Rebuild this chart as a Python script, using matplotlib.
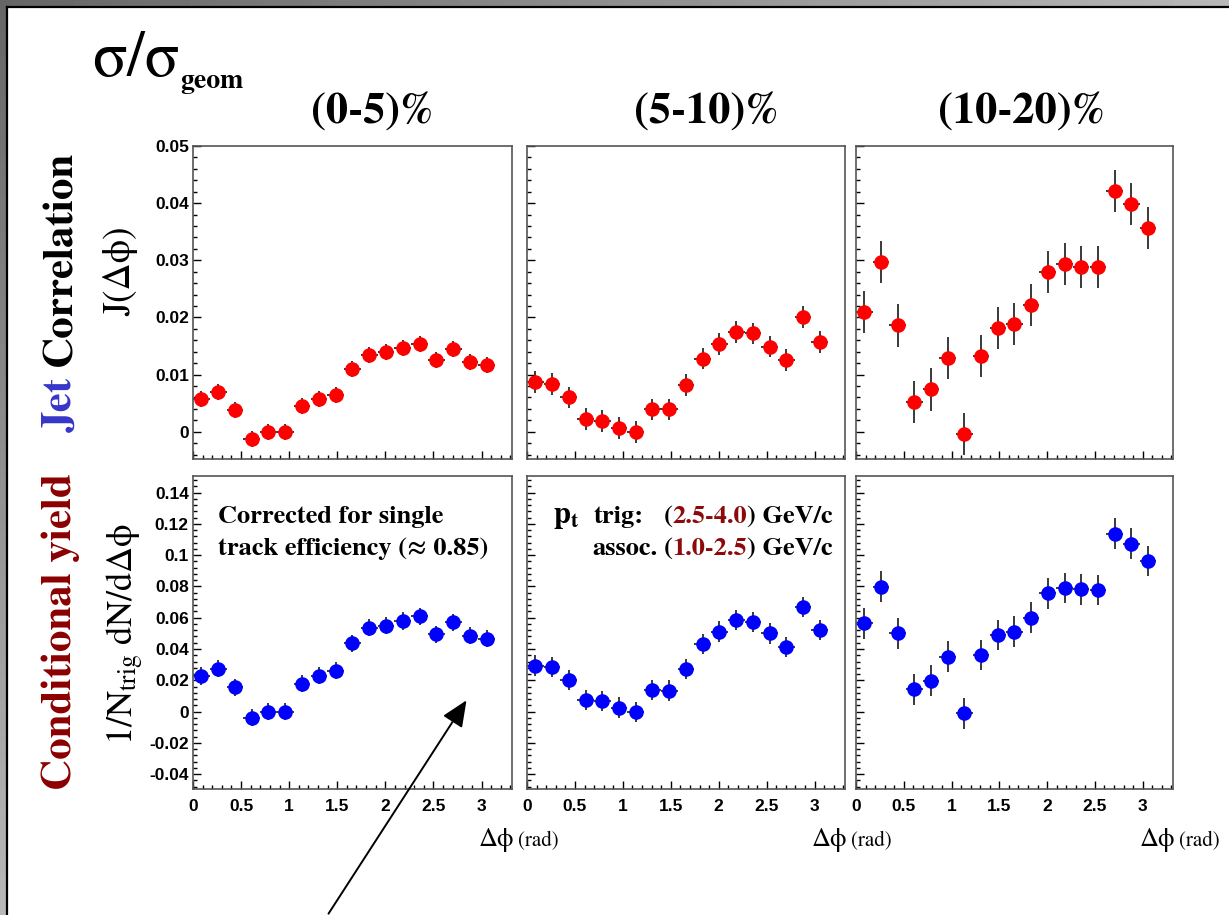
import matplotlib
matplotlib.use("Agg")
import matplotlib.pyplot as plt
import numpy as np
from matplotlib.patches import Rectangle, FancyArrowPatch
from matplotlib.lines import Line2D
from matplotlib.ticker import MultipleLocator, FuncFormatter

plt.rcParams['mathtext.fontset'] = 'stix'

# delta-phi bin centres (10 degree bins)
dphi = [0.087, 0.262, 0.436, 0.611, 0.785, 0.960, 1.134, 1.309, 1.484,
        1.658, 1.833, 2.007, 2.182, 2.356, 2.531, 2.705, 2.880, 3.054]
half_bin = 0.087

centralities = ["(0-5)%", "(5-10)%", "(10-20)%"]

# jet correlation J(dphi)
j_0_5 = [0.0057, 0.0070, 0.0038, -0.0012, -0.0001, -0.0001, 0.0045, 0.0058, 0.0065,
         0.0110, 0.0135, 0.0140, 0.0146, 0.0154, 0.0125, 0.0145, 0.0122, 0.0117]
j_5_10 = [0.0087, 0.0084, 0.0060, 0.0022, 0.0019, 0.0007, -0.0001, 0.0039, 0.0039,
          0.0082, 0.0128, 0.0154, 0.0175, 0.0172, 0.0149, 0.0125, 0.0201, 0.0157]
j_10_20 = [0.0209, 0.0297, 0.0186, 0.0052, 0.0074, 0.0129, -0.0004, 0.0133, 0.0181,
           0.0189, 0.0222, 0.0279, 0.0293, 0.0288, 0.0288, 0.0421, 0.0399, 0.0357]
j_err = [0.0014, 0.0019, 0.0037]

# conditional yield 1/Ntrig dN/ddphi
cy_0_5 = [0.0228, 0.0274, 0.0155, -0.0038, 0.0000, 0.0000, 0.0177, 0.0230, 0.0262,
          0.0436, 0.0536, 0.0549, 0.0579, 0.0609, 0.0494, 0.0570, 0.0485, 0.0466]
cy_5_10 = [0.0294, 0.0287, 0.0202, 0.0074, 0.0068, 0.0026, -0.0004, 0.0138, 0.0134,
           0.0272, 0.0432, 0.0511, 0.0585, 0.0572, 0.0500, 0.0413, 0.0670, 0.0521]
cy_10_20 = [0.0564, 0.0798, 0.0500, 0.0143, 0.0198, 0.0351, -0.0011, 0.0362, 0.0489,
            0.0511, 0.0600, 0.0755, 0.0791, 0.0781, 0.0777, 0.1138, 0.1074, 0.0962]
cy_err = [0.0055, 0.0065, 0.0098]

jet_rows = [j_0_5, j_5_10, j_10_20]
yield_rows = [cy_0_5, cy_5_10, cy_10_20]

W, H = 1229, 915
fig = plt.figure(figsize=(W / 100, H / 100), dpi=100)
renderer = fig.canvas.get_renderer()


def fx(x):
    return x / W


def fy(y):
    return 1 - y / H


def text_width(s, **kw):
    t = fig.text(0, 0, s, **kw)
    w = t.get_window_extent(renderer).width
    t.remove()
    return w


def colored_row(x, y, pieces, ha='left', rotation=0, **kw):
    # lay out differently coloured chunks of one string, side by side
    full = ''.join(t for t, _ in pieces)
    x0 = x - text_width(full, **kw) if ha == 'right' else x
    pos = 0
    for t, c in pieces:
        pos += len(t)
        if not t.strip():
            continue
        off = text_width(full[:pos], **kw) - text_width(t, **kw)
        if rotation == 90:
            fig.text(fx(x0), fy(y - off), t, color=c, rotation=90,
                     rotation_mode='anchor', ha='left', va='baseline', **kw)
        else:
            fig.text(fx(x0 + off), fy(y), t, color=c, va='baseline', **kw)


# slide frame
bg = fig.add_axes([0, 0, 1, 1], zorder=-10)
gx, gy = np.meshgrid(np.linspace(0, 1, 200), np.linspace(0, 1, 200))
bg.imshow(0.40 + 0.32 * np.clip(gx + gy, 0, 1), cmap='gray', vmin=0, vmax=1,
          extent=[0, 1, 0, 1], origin='upper', aspect='auto')
bg.add_patch(Rectangle((fx(8), 0), 1, fy(8), color='white'))
bg.add_line(Line2D([fx(7), fx(7)], [0, fy(7)], color='black', lw=1.6))
bg.add_line(Line2D([fx(7), 1], [fy(7), fy(7)], color='black', lw=1.6))
bg.set_xlim(0, 1)
bg.set_ylim(0, 1)
bg.axis('off')

cols_x = [(193, 512), (527, 845), (856, 1173)]
rows_y = [(146, 458.5), (476, 789)]
serif = 'STIXGeneral'
tick_font = dict(family='Liberation Sans', weight='bold', size=12.5)


def fmt(v, _):
    v = round(v, 4)
    return '0' if abs(v) < 1e-9 else f"{v:g}"


for r, (y0, y1) in enumerate(rows_y):
    for c, (x0, x1) in enumerate(cols_x):
        ax = fig.add_axes([fx(x0), fy(y1), (x1 - x0) / W, (y1 - y0) / H])
        if r == 0:
            vals, err, col = jet_rows[c], j_err[c], '#ff0000'
            ax.set_ylim(-0.0047, 0.05)
            ax.yaxis.set_major_locator(MultipleLocator(0.01))
            ax.yaxis.set_minor_locator(MultipleLocator(0.002))
        else:
            vals, err, col = yield_rows[c], cy_err[c], '#0000ff'
            ax.set_ylim(-0.0495, 0.1506)
            ax.yaxis.set_major_locator(MultipleLocator(0.02))
            ax.yaxis.set_minor_locator(MultipleLocator(0.004))
        ax.errorbar(dphi, vals, yerr=err, xerr=half_bin, fmt='o', ms=10.5,
                    color=col, mec='none', ecolor='#2a2a2a', elinewidth=1.3,
                    capsize=0)
        ax.set_xlim(0, 3.317)
        ax.xaxis.set_major_locator(MultipleLocator(0.5))
        ax.xaxis.set_minor_locator(MultipleLocator(0.1))
        ax.yaxis.set_major_formatter(FuncFormatter(fmt))
        ax.xaxis.set_major_formatter(FuncFormatter(fmt))
        ax.tick_params(which='both', direction='in', top=False, right=False,
                       color='black', width=1.0)
        ax.tick_params(which='major', length=6)
        ax.tick_params(which='minor', length=3)
        ax.tick_params(axis='x', pad=7)
        ax.tick_params(axis='y', pad=3)
        for s in ax.spines.values():
            s.set_color('#555555')
            s.set_linewidth(1.2)
        for lab in ax.get_xticklabels() + ax.get_yticklabels():
            lab.set_fontproperties(matplotlib.font_manager.FontProperties(**tick_font))
        if r == 0:
            ax.tick_params(labelbottom=False)
        if c > 0:
            ax.tick_params(labelleft=False)

# centrality headers
for name, cx in zip(centralities, [372, 706, 1022]):
    fig.text(fx(cx), fy(123), name, ha='center', va='baseline',
             family=serif, weight='bold', size=32)

# sigma / sigma_geom
fig.text(fx(92), fy(76), "σ/σ", family=serif, size=46, va='baseline')
fig.text(fx(180), fy(88), "geom", family=serif, weight='bold', size=20, va='baseline')

# row titles
colored_row(71, 432, [("Jet", '#3535c8'), (" ", 'k'), ("Correlation", 'black')],
            rotation=90, family=serif, weight='bold', size=31)
colored_row(71, 790, [("Conditional yield", '#8b0000')],
            rotation=90, family=serif, weight='bold', size=31)

# y axis titles
fig.text(fx(121), fy(271), "J(Δϕ)", rotation=90, ha='center', va='center',
         family=serif, size=27)
fig.text(fx(133), fy(634), r"1/N$_{\rm trig}$ dN/dΔϕ", rotation=90,
         rotation_mode='anchor', ha='center', va='baseline', family=serif, size=26)

# x axis titles
for x0, x1 in cols_x:
    fig.text(fx(x1 - 33), fy(846), "Δϕ", family=serif, size=19, va='baseline')
    fig.text(fx(x1 + 6), fy(846), "(rad)", family=serif, size=15, va='baseline')

# notes inside the lower panels
note = dict(family=serif, weight='bold', size=19)
fig.text(fx(218), fy(523), "Corrected for single", va='baseline', **note)
fig.text(fx(218), fy(555), "track efficiency (≈ 0.85)", va='baseline', **note)

dark_red = '#8c0a0a'
fig.text(fx(553), fy(523), r"$\mathbf{p}_{\mathbf{t}}$", va='baseline', size=22)
colored_row(833, 523, [("trig:", 'black'), ("   ", 'k'), ("(", 'black'),
                       ("2.5-4.0", dark_red), (") GeV/c", 'black')],
            ha='right', **note)
colored_row(833, 555, [("assoc.", 'black'), (" ", 'k'), ("(", 'black'),
                       ("1.0-2.5", dark_red), (") GeV/c", 'black')],
            ha='right', **note)

# pointer arrow
fig.patches.append(FancyArrowPatch((fx(327), fy(916)), (fx(468), fy(698)),
                                   transform=fig.transFigure,
                                   arrowstyle='-|>,head_length=0.8,head_width=0.35',
                                   mutation_scale=20, lw=1.4, color='black'))

fig.savefig('out.png', dpi=100)
